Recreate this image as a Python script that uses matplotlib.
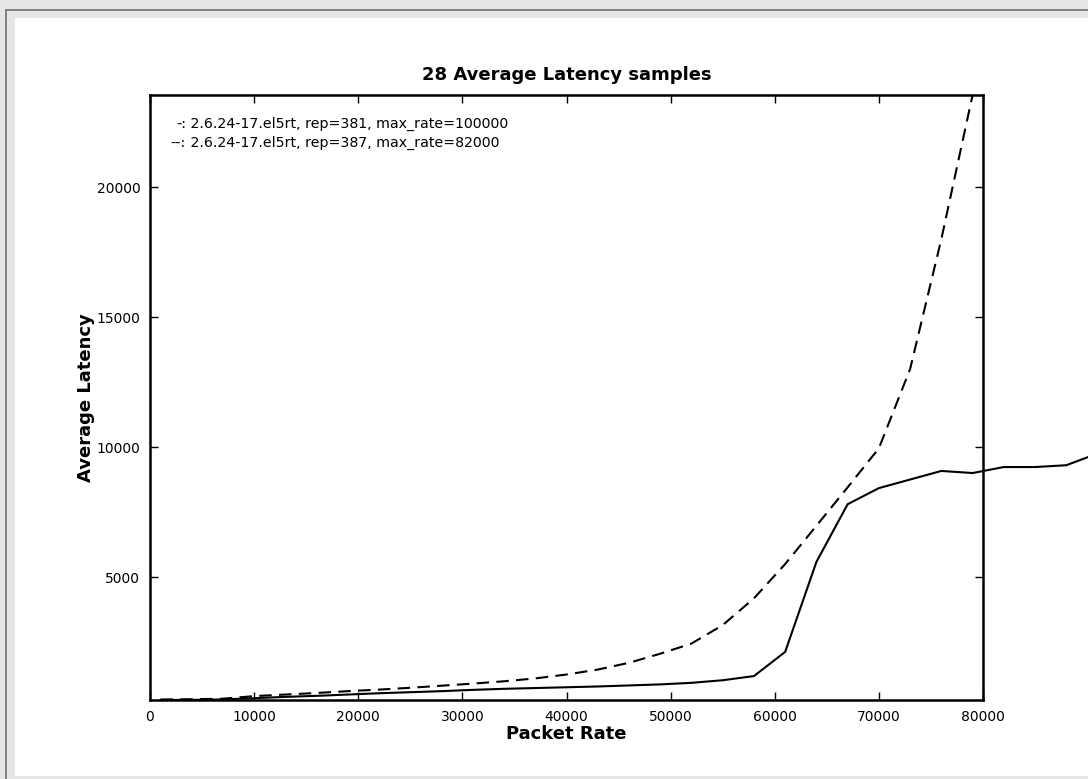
import matplotlib
matplotlib.use("Agg")
import matplotlib.pyplot as plt
from matplotlib.patches import Rectangle

# packet rates sampled every 3000
rate_381 = [1000, 4000, 7000, 10000, 13000, 16000, 19000, 22000, 25000, 28000,
            31000, 34000, 37000, 40000, 43000, 46000, 49000, 52000, 55000, 58000,
            61000, 64000, 67000, 70000, 73000, 76000, 79000, 82000, 85000, 88000,
            91000]
lat_381 = [270, 275, 290, 340, 390, 430, 480, 530, 570, 610,
           660, 700, 730, 760, 790, 830, 870, 930, 1030, 1190,
           2120, 5580, 7800, 8420, 8750, 9080, 9000, 9230, 9230, 9300,
           9750]

rate_387 = [1000, 4000, 7000, 10000, 13000, 16000, 19000, 22000, 25000, 28000,
            31000, 34000, 37000, 40000, 43000, 46000, 49000, 52000, 55000, 58000,
            61000, 64000, 67000, 70000, 73000, 76000, 79000]
lat_387 = [290, 300, 320, 420, 480, 540, 610, 670, 740, 820,
           900, 990, 1100, 1250, 1440, 1700, 2050, 2440, 3150, 4180,
           5500, 6970, 8450, 9950, 13000, 18000, 23540]

label_381 = " 2.6.24-17.el5rt, rep=381, max_rate=100000"
label_387 = " 2.6.24-17.el5rt, rep=387, max_rate=82000"

W, H = 1088, 779
fig = plt.figure(figsize=(W / 100, H / 100), dpi=100)
fig.patch.set_facecolor("#e6e6e6")

# page frame (screenshot look), kept behind the axes
fig.patches.append(Rectangle((6 / W, -0.1), 1, 1.1 - 10 / H, transform=fig.transFigure,
                             facecolor="#e6e6e6", edgecolor="#6e6e6e", lw=1.2, zorder=-10))
fig.patches.append(Rectangle((15 / W, 3 / H), 1, 1 - 21 / H, transform=fig.transFigure,
                             facecolor="white", edgecolor="none", zorder=-9))

ax = fig.add_axes([150 / W, 1 - 700 / H, 833 / W, 605 / H])
ax.set_facecolor("white")

ax.plot(rate_381, lat_381, color="black", lw=1.5, clip_on=False)
ax.plot(rate_387, lat_387, color="black", lw=1.5, linestyle=(0, (6, 3.5)))

ax.set_xlim(0, 80000)
ax.set_ylim(270, 23540)
ax.set_xticks(range(0, 80001, 10000))
ax.set_yticks([5000, 10000, 15000, 20000])

for s in ax.spines.values():
    s.set_linewidth(1.8)
ax.tick_params(direction="in", length=6, width=1, top=True, right=True,
               labelsize=10, pad=7)

ax.set_title("28 Average Latency samples", fontsize=13, fontweight="bold", pad=11)
ax.set_xlabel("Packet Rate", fontsize=13, fontweight="bold", labelpad=1)
ax.set_ylabel("Average Latency", fontsize=13, fontweight="bold", labelpad=1)

# legend-like text block
fs = 10.2
ax.text(0.043, 0.952, "-:", transform=ax.transAxes, ha="right", va="center", fontsize=fs)
ax.text(0.043, 0.952, label_381, transform=ax.transAxes, ha="left", va="center", fontsize=fs)
ax.text(0.043, 0.920, "--:", transform=ax.transAxes, ha="right", va="center", fontsize=fs)
ax.text(0.043, 0.920, label_387, transform=ax.transAxes, ha="left", va="center", fontsize=fs)

fig.savefig("out.png", dpi=100, facecolor=fig.get_facecolor())
